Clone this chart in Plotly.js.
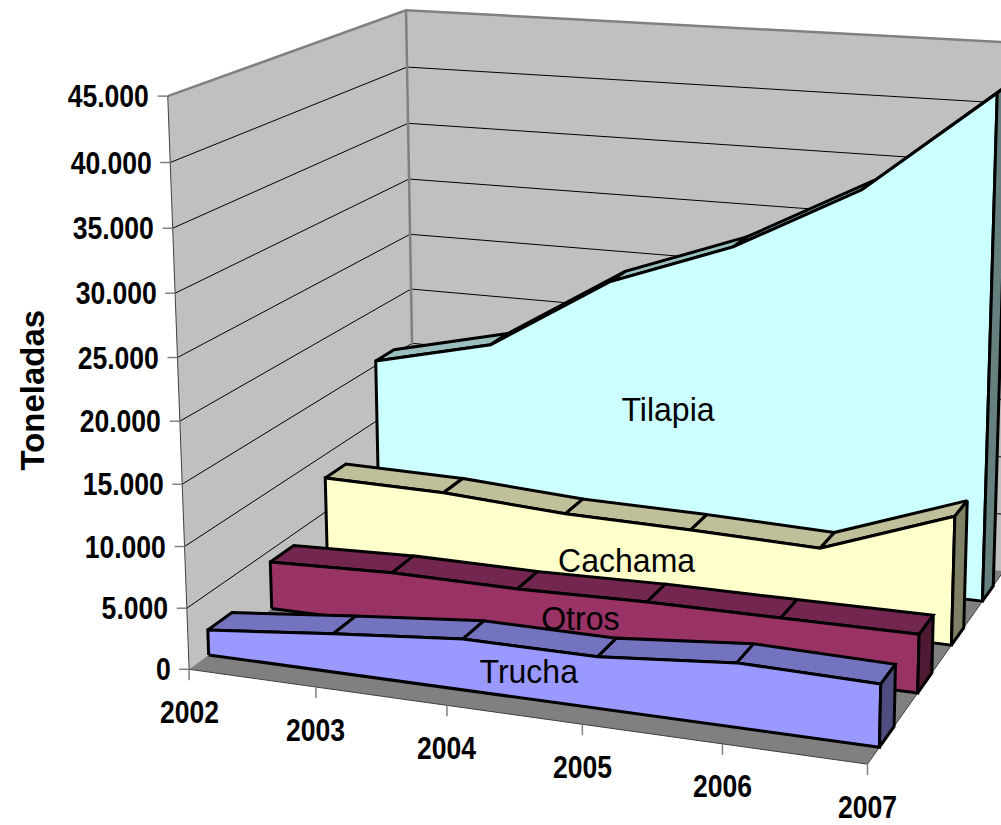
<!DOCTYPE html>
<html><head><meta charset="utf-8">
<script src="https://cdn.plot.ly/plotly-3.0.1.min.js"></script>
<style>html,body{margin:0;padding:0;background:#fff}#c{width:1001px;height:825px}</style>
</head><body><div id="c"></div>
<script>
var years=["2002","2003","2004","2005","2006","2007"];
var yTickValues=[0,5000,10000,15000,20000,25000,30000,35000,40000,45000];
var yTickLabels=["0","5.000","10.000","15.000","20.000","25.000","30.000","35.000","40.000","45.000"];
var trucha=[2070,3140,4110,4090,5040,4850];
var otros=[4010,4380,4330,4580,4630,4690];
var cachama=[7970,7840,7220,7070,6770,10660];
var tilapia=[15410,17850,24280,28140,33710,42260];

var calib=[[0,0,0,190,669],[0,1,0,167,97],[0,1,1,407,11],[0,0,1,415,506],[5,0,0,866,765],[5,0,1,1004,568],[5,1,1,1021,44],[1,0,0,316,687],[2,0,0,447,706],[3,0,0,583,725],[4,0,0,722,745],[0,8/9,0,170,162],[0,8/9,1,407,68],[0,1/9,0,187.5,608.7],[0,3/9,0,183,482.7],[0,4/9,0,180,420],[0,5/9,0,177,357.7],[0,6/9,0,175,292],[0,6/9,1,408,178],[0,4/9,1,410.5,288],[0,3/9,1,411.5,343]];
function solve(A,b){var n=b.length;for(var i=0;i<n;i++){var p=i;for(var r=i+1;r<n;r++)if(Math.abs(A[r][i])>Math.abs(A[p][i]))p=r;var t=A[i];A[i]=A[p];A[p]=t;t=b[i];b[i]=b[p];b[p]=t;for(var r=i+1;r<n;r++){var f=A[r][i]/A[i][i];for(var c=i;c<n;c++)A[r][c]-=f*A[i][c];b[r]-=f*b[i];}}var x=[];for(var i=n-1;i>=0;i--){var s=b[i];for(var c=i+1;c<n;c++)s-=A[i][c]*x[c];x[i]=s/A[i][i];}return x;}
function fit(){var M=[],B=[];for(var i=0;i<11;i++){M.push(new Array(11).fill(0));B.push(0);}
calib.forEach(function(q){var X=q[0]/5,Y=q[1],Z=q[2],u=q[3]/1000,v=q[4]/1000;[[X,Y,Z,1,0,0,0,0,-u*X,-u*Y,-u*Z,u],[0,0,0,0,X,Y,Z,1,-v*X,-v*Y,-v*Z,v]].forEach(function(r){for(var a=0;a<11;a++){for(var c=0;c<11;c++)M[a][c]+=r[a]*r[c];B[a]+=r[a]*r[11];}});});return solve(M,B);}
var h=fit();
function P(x,val,z){var X=x/5,Y=val/45000,w=h[8]*X+h[9]*Y+h[10]*z+1;return [1000*(h[0]*X+h[1]*Y+h[2]*z+h[3])/w,1000*(h[4]*X+h[5]*Y+h[6]*z+h[7])/w];}
var traces=[];
function poly(pts,fill,color,width){traces.push({type:'scatter',mode:'lines',x:pts.map(function(p){return p[0]}),y:pts.map(function(p){return p[1]}),fill:fill?'toself':'none',fillcolor:fill||undefined,line:{color:color,width:width},hoverinfo:'skip',showlegend:false});}
var last=years.length-1;
poly([P(0,0,0),P(0,45000,0),P(0,45000,1),P(0,0,1)],'#C0C0C0','rgba(0,0,0,0)',0);
poly([P(0,0,1),P(0,45000,1),P(last,45000,1),P(last,0,1)],'#C0C0C0','rgba(0,0,0,0)',0);
poly([P(0,0,0),P(last,0,0),P(last,0,1),P(0,0,1)],'#808080','rgba(0,0,0,0)',0);
yTickValues.slice(1,-1).forEach(function(v){poly([P(0,v,0),P(0,v,1),P(last,v,1)],null,'#000',1);});
poly([P(0,45000,0),P(0,45000,1),P(last,45000,1)],null,'#808080',2.5);
poly([P(0,0,1),P(0,45000,1)],null,'#808080',2.5);
poly([P(0,45000,0),P(0,0,0),P(last,0,0),P(last,0,1)],null,'#404040',1);
yTickValues.forEach(function(v){var p=P(0,v,0);poly([[p[0]-10,p[1]],p],null,'#808080',1.5);});
years.forEach(function(y,i){var p=P(i,0,0);poly([p,[p[0],p[1]+11]],null,'#808080',1.5);});
var series=[
 {v:tilapia,z0:0.82,z1:0.91,front:'#CCFFFF',top:'#99BFBF',side:'#668080'},
 {v:cachama,z0:0.575,z1:0.67,front:'#FFFFCC',top:'#BFBF99',side:'#808066'},
 {v:otros,z0:0.33,z1:0.43,front:'#993366',top:'#732650',side:'#4D1933'},
 {v:trucha,z0:0.075,z1:0.17,front:'#9999FF',top:'#7373BF',side:'#4D4D80'}];
series.forEach(function(s){
 for(var i=0;i<last;i++)poly([P(i,s.v[i],s.z0),P(i+1,s.v[i+1],s.z0),P(i+1,s.v[i+1],s.z1),P(i,s.v[i],s.z1),P(i,s.v[i],s.z0)],s.top,'#000',3);
 var f=[P(0,0,s.z0)];s.v.forEach(function(v,i){f.push(P(i,v,s.z0));});f.push(P(last,0,s.z0));f.push(P(0,0,s.z0));poly(f,s.front,'#000',3);
 poly([P(last,0,s.z0),P(last,s.v[last],s.z0),P(last,s.v[last],s.z1),P(last,0,s.z1),P(last,0,s.z0)],s.side,'#000',3);
});
var font='"Liberation Sans",Arial,sans-serif';
var ann=[],squeeze=[];
yTickValues.forEach(function(v,i){var p=P(0,v,0);ann.push({x:p[0]-16.5,y:p[1],text:'<b>'+yTickLabels[i]+'</b>',xanchor:'right',yanchor:'middle',showarrow:false,font:{family:font,size:32,color:'#000'}});squeeze.push(0.83);});
years.forEach(function(y,i){var p=P(i,0,0);ann.push({x:p[0],y:p[1]+43,text:'<b>'+y+'</b>',xanchor:'center',yanchor:'middle',showarrow:false,font:{family:font,size:31,color:'#000'}});squeeze.push(0.855);});
[['Tilapia',668,409],['Cachama',627,560],['Otros',580,618],['Trucha',529,671]].forEach(function(a){ann.push({x:a[1],y:a[2],text:a[0],xanchor:'center',yanchor:'middle',showarrow:false,font:{family:font,size:33,color:'#000'}});squeeze.push(0.97);});
ann.push({x:32,y:390,text:'<b>Toneladas</b>',textangle:-90,xanchor:'center',yanchor:'middle',showarrow:false,font:{family:font,size:34,color:'#000'}});squeeze.push(0.97);
ann.forEach(function(a){a.xref='x';a.yref='y';});
Plotly.newPlot('c',traces,{width:1001,height:825,margin:{l:0,r:0,t:0,b:0},paper_bgcolor:'#fff',plot_bgcolor:'#fff',showlegend:false,
 xaxis:{range:[0,1001],visible:false,fixedrange:true},yaxis:{range:[825,0],visible:false,fixedrange:true},annotations:ann},{staticPlot:true,displayModeBar:false}).then(function(){
  var nodes=document.querySelectorAll('#c .annotation');
  for(var i=0;i<ann.length;i++){var t=nodes[i].querySelector('text');if(!t)continue;
   var r0=t.getBoundingClientRect().right,L=t.getComputedTextLength();
   t.setAttribute('textLength',L*squeeze[i]);t.setAttribute('lengthAdjust','spacingAndGlyphs');
   if(ann[i].xanchor==='right'){var r1=t.getBoundingClientRect().right;t.setAttribute('x',parseFloat(t.getAttribute('x')||0)+(r0-r1));}
  }
 });
</script></body></html>
